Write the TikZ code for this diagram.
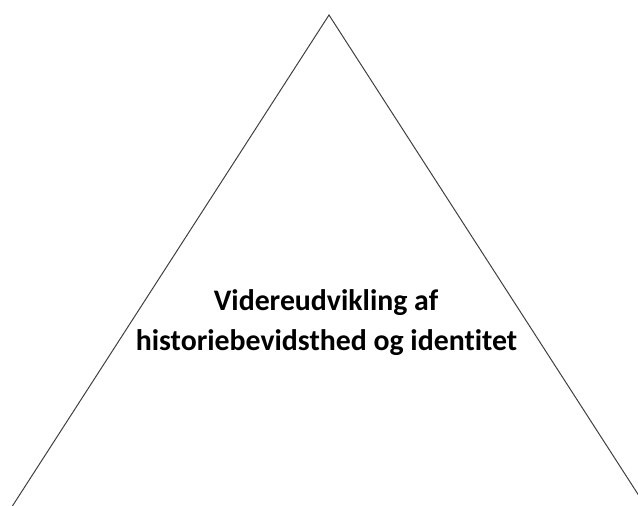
\documentclass[tikz,border=0pt]{standalone}
\usepackage{fontspec}
\setmainfont[Ligatures={NoCommon}]{Carlito}
\begin{document}
\begin{tikzpicture}[x=1pt,y=-1pt,
  edge/.style={draw=black!75, line width=1pt},
  label/.style={font=\bfseries\fontsize{29.8}{40}\selectfont, text=black, inner sep=0pt, anchor=base}]
\useasboundingbox (0,0) rectangle (638,506);
\clip (0,0) rectangle (638,506);
\coordinate (apex) at (329,15);
\coordinate (bl) at (3.4,520);
\coordinate (br) at (654.6,520);
\draw[edge, line join=miter] (bl) -- (apex) -- (br);
\node[label] (t1) at (326,310.5) {Videreudvikling af};
\node[label] (t2) at (326.5,350.5) {historiebevidsthed og identitet};
\end{tikzpicture}
\end{document}
